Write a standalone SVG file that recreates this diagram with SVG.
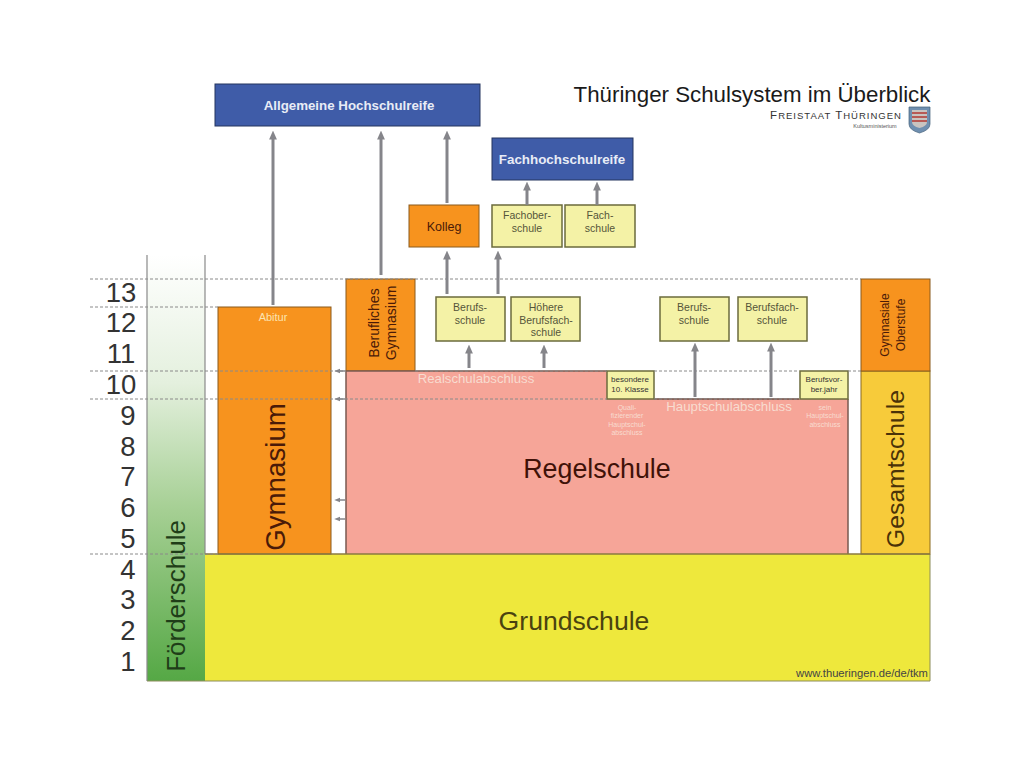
<svg xmlns="http://www.w3.org/2000/svg" width="1024" height="768" viewBox="0 0 1024 768">
<style>
text{font-family:"Liberation Sans",Arial,sans-serif;text-anchor:middle}
.yr{font-size:27.500px;fill:#333}
.blue{fill:#3f5ca8;stroke:#24355f;stroke-width:1}
.org{fill:#f7931e;stroke:#8a5a1c;stroke-width:1}
.pale{fill:#f4f2a6;stroke:#6b6b3c;stroke-width:1.500}
.sm{font-size:10.500px;fill:#55553a}
.xs{font-size:8px;fill:#333}
.wh{fill:#f8dcd0}
.dash{stroke:#8a8a8a;stroke-width:1;stroke-dasharray:3 2;fill:none}
.ar{stroke:#85858a;stroke-width:3;fill:none;marker-end:url(#a)}
.ar2{stroke:#85858a;stroke-width:1.500;fill:none;marker-end:url(#b)}
</style>
<defs>
<linearGradient id="g" x1="0" y1="0" x2="0" y2="1">
<stop offset="0" stop-color="#ffffff"/><stop offset=".3" stop-color="#e4f0de"/><stop offset=".6" stop-color="#a5cf93"/><stop offset="1" stop-color="#55a845"/>
</linearGradient>
<marker id="a" markerWidth="3" markerHeight="2.600" refX="1.500" refY="1.300" orient="auto"><path d="M0 0L3 1.300L0 2.600z" fill="#85858a"/></marker>
<marker id="b" markerWidth="4" markerHeight="4" refX="1.500" refY="2" orient="auto"><path d="M0 0.400L4 2L0 3.600z" fill="#85858a"/></marker>
</defs>
<rect width="1024" height="768" fill="#fff"/>

<g id="title">
<text x="752" y="102" font-size="22.300" fill="#1a1a1a">Thüringer Schulsystem im Überblick</text>
<text x="836" y="119" font-size="11.500" fill="#333" letter-spacing="1">F<tspan font-size="9.500">REISTAAT</tspan> T<tspan font-size="9.500">HÜRINGEN</tspan></text>
<text x="875" y="128" font-size="5.500" fill="#555">Kultusministerium</text>
<path d="M909 107H930V124Q930 130 919.500 133Q909 130 909 124Z" fill="#6f8fb0" stroke="#44607a" stroke-width=".7"/>
<path d="M912 110H927V122Q927 126 919.500 128Q912 126 912 122Z" fill="#c9c4c0"/>
<path d="M912 113H927M912 117H927M912 121H927" stroke="#b85a55" stroke-width="2"/>
</g>

<g id="foerderschule">
<rect x="147" y="255" width="58" height="426" fill="url(#g)"/>
<path d="M147 255V681M205 255V554" stroke="#8a8a8a" stroke-width="1.200" fill="none"/>
<text transform="translate(185,596) rotate(-90)" font-size="26" fill="#1f3d18">Förderschule</text>
</g>

<g id="grundschule">
<rect x="205" y="554" width="725" height="127" fill="#eee83c"/>
<path d="M147 681H930V554" stroke="#8c8c5a" fill="none"/>
<text x="574" y="630" font-size="26.600" fill="#4a4310">Grundschule</text>
<text x="862" y="677" font-size="11.200" fill="#444">www.thueringen.de/de/tkm</text>
</g>

<g id="gymnasium">
<rect class="org" x="218" y="307" width="113" height="247"/>
<text x="273" y="321" font-size="11" fill="#fbe3b0">Abitur</text>
<text transform="translate(285,477) rotate(-90)" font-size="27.700" fill="#4a1a08">Gymnasium</text>
</g>

<g id="berufliches-gymnasium">
<rect class="org" x="346" y="279" width="69" height="92"/>
<text transform="translate(379,323) rotate(-90)" font-size="14" fill="#4a1a08">Berufliches</text>
<text transform="translate(396,323) rotate(-90)" font-size="14" fill="#4a1a08">Gymnasium</text>
</g>

<g id="regelschule">
<path d="M346 371H607V399H848V554H346Z" fill="#f6a598"/>
<path d="M346 554V371H607M848 399V554" stroke="#7a5a50" stroke-width="1.500" fill="none"/>
<path d="M654 399H799" stroke="#6a4a40" stroke-width="1.500" fill="none"/>
<text x="476" y="383" font-size="13.200" class="wh">Realschulabschluss</text>
<text x="729" y="411" font-size="13.300" class="wh">Hauptschulabschluss</text>
<text font-size="7" class="wh" x="627" y="410">Quali-<tspan x="627" dy="8.300">fizierender</tspan><tspan x="627" dy="8.300">Hauptschul-</tspan><tspan x="627" dy="8.300">abschluss</tspan></text>
<text font-size="7" class="wh" x="825" y="410">sein<tspan x="825" dy="8.300">Hauptschul-</tspan><tspan x="825" dy="8.300">abschluss</tspan></text>
<text x="597" y="478" font-size="26.800" fill="#3f1208">Regelschule</text>
</g>

<g id="besondere-klasse">
<rect class="pale" x="607" y="371" width="47" height="28"/>
<text class="xs" x="630" y="382">besondere<tspan x="630" dy="10">10. Klasse</tspan></text>
</g>
<g id="berufsvorbereitungsjahr">
<rect class="pale" x="800" y="371" width="48" height="28"/>
<text class="xs" x="824" y="382">Berufsvor-<tspan x="824" dy="10">ber.jahr</tspan></text>
</g>

<g id="gesamtschule">
<rect x="861" y="371" width="69" height="183" fill="#f7cb3a" stroke="#8a6a20"/>
<text transform="translate(904,469) rotate(-90)" font-size="24.700" fill="#4a3208">Gesamtschule</text>
</g>
<g id="gymnasiale-oberstufe">
<rect class="org" x="861" y="279" width="69" height="92"/>
<text transform="translate(889,325) rotate(-90)" font-size="12" fill="#4a1a08">Gymnasiale</text>
<text transform="translate(905,325) rotate(-90)" font-size="12" fill="#4a1a08">Oberstufe</text>
</g>

<g id="allgemeine-hochschulreife">
<rect class="blue" x="215" y="84" width="265" height="42"/>
<text x="349" y="110" font-size="13.300" font-weight="bold" fill="#e8ecf6">Allgemeine Hochschulreife</text>
</g>
<g id="fachhochschulreife">
<rect class="blue" x="492" y="138" width="141" height="42"/>
<text x="562" y="164" font-size="13.400" font-weight="bold" fill="#e8ecf6">Fachhochschulreife</text>
</g>
<g id="kolleg">
<rect class="org" x="409" y="205" width="70" height="42"/>
<text x="444" y="231" font-size="12.500" fill="#4a1a08">Kolleg</text>
</g>
<g id="fachoberschule">
<rect class="pale" x="492" y="205" width="70" height="42"/>
<text class="sm" x="527" y="219">Fachober-<tspan x="527" dy="13">schule</tspan></text>
</g>
<g id="fachschule">
<rect class="pale" x="565" y="205" width="70" height="42"/>
<text class="sm" x="600" y="219">Fach-<tspan x="600" dy="13">schule</tspan></text>
</g>
<g id="berufsschule-1">
<rect class="pale" x="436" y="297" width="69" height="44"/>
<text class="sm" x="470" y="311">Berufs-<tspan x="470" dy="13">schule</tspan></text>
</g>
<g id="hoehere-berufsfachschule">
<rect class="pale" x="511" y="297" width="69" height="44"/>
<text class="sm" x="546" y="311">Höhere<tspan x="546" dy="12.500">Berufsfach-</tspan><tspan x="546" dy="12.500">schule</tspan></text>
</g>
<g id="berufsschule-2">
<rect class="pale" x="660" y="297" width="69" height="44"/>
<text class="sm" x="694" y="311">Berufs-<tspan x="694" dy="13">schule</tspan></text>
</g>
<g id="berufsfachschule">
<rect class="pale" x="738" y="297" width="69" height="44"/>
<text class="sm" x="772" y="311">Berufsfach-<tspan x="772" dy="13">schule</tspan></text>
</g>

<g id="jahrgaenge">
<text class="yr" x="121" y="302">13</text>
<text class="yr" x="121" y="332">12</text>
<text class="yr" x="121" y="363">11</text>
<text class="yr" x="121" y="394">10</text>
<text class="yr" x="128" y="425">9</text>
<text class="yr" x="128" y="456">8</text>
<text class="yr" x="128" y="486">7</text>
<text class="yr" x="128" y="517">6</text>
<text class="yr" x="128" y="548">5</text>
<text class="yr" x="128" y="579">4</text>
<text class="yr" x="128" y="609">3</text>
<text class="yr" x="128" y="640">2</text>
<text class="yr" x="128" y="671">1</text>
</g>

<g id="connectors">
<path d="M205 554H930" stroke="#8a7a40" stroke-width="1.500" fill="none"/>
<path class="dash" d="M90 279H861M90 307H218M90 371H346M415 371H607M654 371H799M848 371H861M90 399H607M654 399H799M90 554H218"/>
<path class="ar" d="M273 305V135"/>
<path class="ar" d="M381 275V135"/>
<path class="ar" d="M447 203V135"/>
<path class="ar" d="M447 294V255"/>
<path class="ar" d="M498 294V255"/>
<path class="ar" d="M527 205V186"/>
<path class="ar" d="M597 205V186"/>
<path class="ar" d="M469 368V349"/>
<path class="ar" d="M544 368V349"/>
<path class="ar" d="M695 397V347"/>
<path class="ar" d="M771 397V347"/>
<path class="ar2" d="M345 371H338"/>
<path class="ar2" d="M345 399H338"/>
<path class="ar2" d="M345 500H338"/>
<path class="ar2" d="M345 519H338"/>
</g>
</svg>
